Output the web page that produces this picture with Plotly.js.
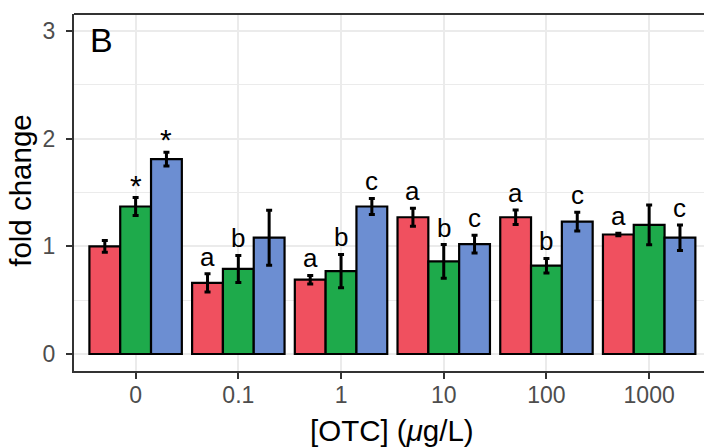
<!DOCTYPE html>
<html>
<head>
<meta charset="utf-8">
<script src="https://cdn.plot.ly/plotly-3.0.1.min.js"></script>
<style>html,body{margin:0;padding:0;background:#fff;}#chart{width:704px;height:448px;}</style>
</head>
<body>
<div id="chart"></div>
<script>
// Categories (OTC concentration, µg/L)
const categories = ['0', '0.1', '1', '10', '100', '1000'];

// Series values (fold change) and error bars
const redValues   = [1.00, 0.66, 0.69, 1.27, 1.27, 1.11];
const redErrors   = [0.055, 0.085, 0.04, 0.083, 0.067, 0.012];
const greenValues = [1.37, 0.79, 0.77, 0.86, 0.82, 1.20];
const greenErrors = [0.083, 0.125, 0.155, 0.157, 0.068, 0.185];
const blueValues  = [1.81, 1.08, 1.37, 1.02, 1.23, 1.08];
const blueErrors  = [0.064, 0.255, 0.075, 0.083, 0.087, 0.118];

// Significance labels
const redLabels   = ['', 'a', 'a', 'a', 'a', 'a'];
const greenLabels = ['*', 'b', 'b', 'b', 'b', ''];
const blueLabels  = ['*', '', 'c', 'c', 'c', 'c'];

// Tick labels
const yTickVals = [0, 1, 2, 3];
const yTickText = ['0', '1', '2', '3'];

const FONT = 'Liberation Sans, Arial, Helvetica, sans-serif';

const series = [
  {name: 'red',   vals: redValues,   errs: redErrors,   labels: redLabels,   color: '#F0505F', off: -0.3},
  {name: 'green', vals: greenValues, errs: greenErrors, labels: greenLabels, color: '#1EAA4B', off: 0},
  {name: 'blue',  vals: blueValues,  errs: blueErrors,  labels: blueLabels,  color: '#6C8ED2', off: 0.3}
];

const traces = series.map(s => ({
  type: 'bar',
  name: s.name,
  x: categories,
  y: s.vals,
  marker: {color: s.color, line: {color: '#000000', width: 2.2}},
  error_y: {type: 'data', array: s.errs, visible: true, color: '#000000', thickness: 3, width: 3},
  hoverinfo: 'x+y'
}));

const annotations = [];
series.forEach(s => {
  s.labels.forEach((lab, i) => {
    if (!lab) return;
    const star = lab === '*';
    annotations.push({
      x: i + s.off, y: s.vals[i] + s.errs[i], xref: 'x', yref: 'y',
      text: lab, showarrow: false, xanchor: 'center', yanchor: 'bottom',
      font: {family: FONT, size: star ? 30 : 26, color: '#000000'}, yshift: star ? -6 : 0
    });
  });
});

// panel label
annotations.push({
  xref: 'paper', yref: 'paper', x: 0.0222, y: 0.985, xanchor: 'left', yanchor: 'top',
  text: 'B', showarrow: false, font: {family: FONT, size: 34, color: '#000000'}
});
// axis titles
annotations.push({
  xref: 'paper', yref: 'paper', x: -0.084, y: 0.505, xanchor: 'center', yanchor: 'middle',
  text: 'fold change', textangle: -90, showarrow: false, font: {family: FONT, size: 29.5, color: '#000000'}
});
annotations.push({
  xref: 'paper', yref: 'paper', x: 0.5048, y: -0.168, xanchor: 'center', yanchor: 'middle',
  text: '[OTC] (<i>μ</i>g/L)', showarrow: false, font: {family: FONT, size: 29.5, color: '#000000'}
});

const layout = {
  width: 704, height: 448,
  margin: {l: 74, r: 0, t: 14, b: 77, pad: 0},
  paper_bgcolor: '#ffffff', plot_bgcolor: '#ffffff',
  showlegend: false,
  barmode: 'group', bargap: 0.1, bargroupgap: 0,
  font: {family: FONT},
  xaxis: {
    type: 'category', range: [-0.6, 5.534],
    showgrid: true, gridcolor: '#EBEBEB', gridwidth: 2,
    showline: true, linecolor: '#333333', linewidth: 2,
    ticks: 'outside', ticklen: 6, tickwidth: 2, tickcolor: '#333333',
    tickfont: {family: FONT, size: 23, color: '#4D4D4D'},
    ticklabelstandoff: -4,
    zeroline: false, fixedrange: true
  },
  yaxis: {
    range: [-0.158, 3.158],
    tickmode: 'array', tickvals: yTickVals, ticktext: yTickText,
    showgrid: true, gridcolor: '#EBEBEB', gridwidth: 2,
    minor: {tickvals: [0.5, 1.5, 2.5], showgrid: true, gridcolor: '#EBEBEB', gridwidth: 1, ticks: ''},
    showline: true, linecolor: '#333333', linewidth: 2,
    ticks: 'outside', ticklen: 6, tickwidth: 2, tickcolor: '#333333',
    tickfont: {family: FONT, size: 23, color: '#4D4D4D'},
    ticklabelstandoff: 6,
    zeroline: false, fixedrange: true
  },
  shapes: [
    {type: 'line', xref: 'paper', yref: 'paper', x0: 0, x1: 1.02, y0: 1, y1: 1,
     line: {color: '#333333', width: 2}, layer: 'above'}
  ],
  annotations: annotations
};

Plotly.newPlot('chart', traces, layout, {displayModeBar: false, staticPlot: true});
</script>
</body>
</html>
